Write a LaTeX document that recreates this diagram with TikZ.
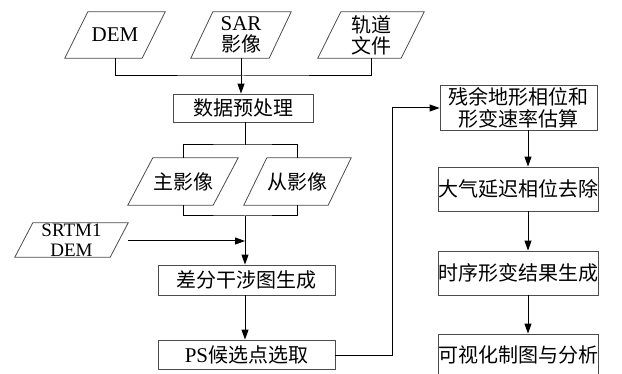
\documentclass[tikz,border=0pt]{standalone}
\usepackage{fontspec}
\setmainfont{Liberation Serif}
\newfontfamily\cjk{Noto Sans CJK SC}
\usetikzlibrary{arrows.meta}
\newcommand\pgram[2]{\draw[shp] ([xshift=#2]#1.north west) -- (#1.north east) -- ([xshift=-#2]#1.south east) -- (#1.south west) -- cycle;}
\begin{document}
\begin{tikzpicture}[x=1pt,y=-1pt,
  shp/.style={draw=black!70,line width=0.8pt},
  lat/.style={inner sep=0pt,align=center,font=\fontsize{21}{20}\selectfont},
  chn/.style={inner sep=0pt,align=center,font=\fontsize{20}{22}\selectfont\cjk},
  pnode/.style={rectangle,minimum height=46pt},
  boxnode/.style={chn,rectangle,draw=black!70,line width=0.8pt},
  conn/.style={line width=1pt,black},
  arr/.style={conn,-{Triangle[length=10pt,width=7pt]}}]
\useasboundingbox (0,0) rectangle (622,374);
% input parallelograms
\node[lat,pnode,minimum width=100pt] (dem) at (115,35) {DEM};
\node[chn,pnode,minimum width=100pt,font=\fontsize{20}{21.5}\selectfont\cjk] (sar) at (241,35) {{\rmfamily\fontsize{21}{20}\selectfont SAR}\\影像};
\node[chn,pnode,minimum width=106pt,font=\fontsize{20}{21}\selectfont\cjk] (orb) at (371,35) {轨道\\文件};
\pgram{dem}{23pt}\pgram{sar}{22pt}\pgram{orb}{23pt}
% preprocessing
\node[boxnode,minimum width=140pt,minimum height=28pt] (pre) at (243,108) {数据预处理};
\node[chn,pnode,minimum width=110pt,minimum height=47pt] (mst) at (183,181.5) {主影像};
\node[chn,pnode,minimum width=107pt,minimum height=47pt] (slv) at (297.5,181.5) {从影像};
\pgram{mst}{25pt}\pgram{slv}{23pt}
\node[lat,pnode,minimum width=113pt,minimum height=34pt,font=\fontsize{19}{19.5}\selectfont] (srtm) at (71.5,240) {SRTM1\\DEM};
\pgram{srtm}{18pt}
\node[boxnode,minimum width=177pt,minimum height=30pt] (dif) at (246.5,280) {差分干涉图生成};
\node[boxnode,minimum width=177pt,minimum height=29pt] (ps) at (246.5,354.5) {{\rmfamily\fontsize{21}{20}\selectfont PS}候选点选取};
% right column
\node[boxnode,minimum width=157pt,minimum height=45pt] (r1) at (518.5,107.5) {残余地形相位和\\形变速率估算};
\node[boxnode,minimum width=157pt,minimum height=44pt] (r2) at (518.5,189) {大气延迟相位去除};
\node[boxnode,minimum width=157pt,minimum height=44pt] (r3) at (518.5,273) {时序形变结果生成};
\node[boxnode,minimum width=157pt,minimum height=42pt] (r4) at (518.5,355) {可视化制图与分析};
% coordinates
\coordinate (j1) at (243,76);
\coordinate (j2) at (245,145);
\coordinate (j3) at (245,216);
\coordinate (j4) at (245,241);
\coordinate (t1) at (392,356);
\coordinate (t2) at (392,108);
% connectors
\draw[conn] (dem.south) |- (j1) -| (orb.south);
\draw[arr] (sar.south) -- (sar.south |- pre.north);
\draw[conn] (pre.south -| j2) -- (j2);
\draw[conn] (mst.north) |- (j2) -| (slv.north);
\draw[conn] (mst.south) |- (j3) -| (slv.south);
\draw[arr] (j3) -- (j3 |- dif.north);
\draw[arr] (srtm.east |- j4) -- (j4);
\draw[arr] (dif.south -| j3) -- (ps.north -| j3);
\draw[arr] (ps.east |- t1) -- (t1) -- (t2) -- (r1.west |- t2);
\draw[arr] (r1.south -| 528,0) -- (r2.north -| 528,0);
\draw[arr] (r2.south -| 528,0) -- (r3.north -| 528,0);
\draw[arr] (r3.south -| 528,0) -- (r4.north -| 528,0);
\end{tikzpicture}
\end{document}
